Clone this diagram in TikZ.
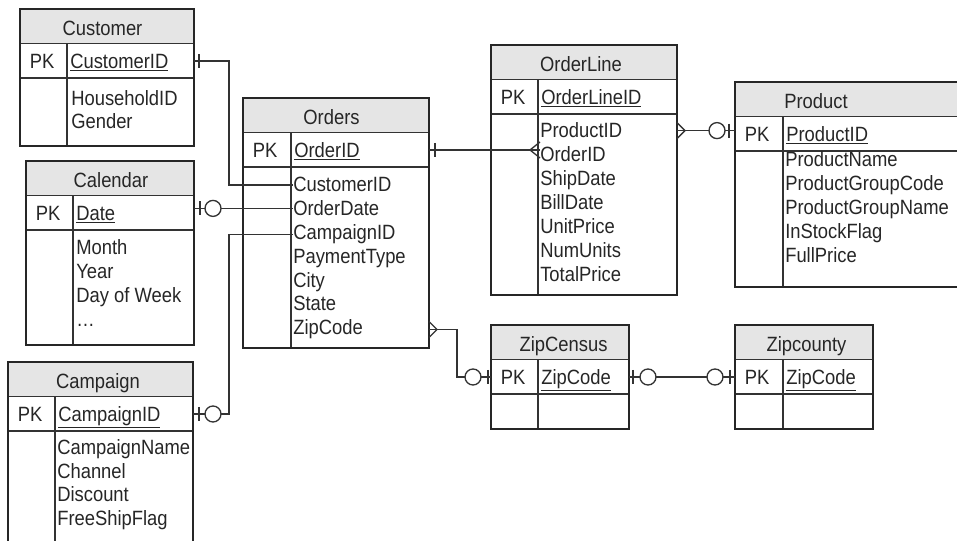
\documentclass[tikz,border=0pt]{standalone}
\usepackage{fontspec}
\setmainfont{Liberation Sans}[FakeStretch=0.89]

\newcommand{\tablefont}{\fontsize{15.5}{17.8}\selectfont}
% primary key: underline below the descenders
\newcommand{\keyline}[1]{\setbox0\hbox{#1}\leavevmode\rlap{\rule[-\dimexpr\dp0+1.3pt\relax]{\wd0}{0.8pt}}\box0}

\tikzset{
  tabborder/.style={line width=2.2pt, draw=black!85},
  tabrule/.style={line width=1.2pt, draw=black!80},
  headfill/.style={fill=black!10},
  link/.style={line width=1pt, draw=black!80},
  tabtitle/.style={font=\tablefont, text=black!85, inner sep=0pt, anchor=base},
  tabfield/.style={font=\tablefont, text=black!85, inner sep=0pt, anchor=base west},
}

% #1 id, #2 left, #3 top, #4 divider, #5 right, #6 bottom, #7 title x, #8 title, #9 key
\newcommand{\ertable}[9]{%
  \fill[headfill] (#2,#3) rectangle (#5,#3+34.5);
  \draw[tabrule] (#2,#3+34.5) -- (#5,#3+34.5) (#2,#3+69) -- (#5,#3+69) (#4,#3+34.5) -- (#4,#6);
  \draw[tabborder] (#2,#3) rectangle (#5,#6);
  \coordinate (#1-l) at (#2,#3+52);
  \coordinate (#1-r) at (#5,#3+52);
  \node[tabtitle] (#1-title) at (#7,#3+27) {#8};
  \node[tabfield] (#1-pk) at (#2+9.5,#3+60) {PK};
  \node[tabfield] (#1-key) at (#4+3,#3+60) {\keyline{#9}};
}
% #1 id, #2 x, #3 first baseline, #4 line step, #5 field list
\newcommand{\fields}[5]{%
  \foreach \f [count=\i from 0] in {#5}
    \node[tabfield] (#1-f\i) at (#2,#3+#4*\i) {\f};
}
% relationship ends
\newcommand{\onebar}[2]{\draw[link] (#1) ++(#2,-7) -- ++(0,14);}
\newcommand{\zeroring}[2]{\draw[link, fill=white] (#1) ++(#2,0) circle[radius=6pt];}
\newcommand{\crowfoot}[2]{\draw[link] (#1) ++(0,-8) -- ++(#2,8) -- ++({-(#2)},8);}

\begin{document}
\begin{tikzpicture}[x=0.75pt, y=-0.75pt]
  \useasboundingbox (0,0) rectangle (957,541);
  \clip (0,0) rectangle (957,541);

  \ertable{cust}{20}{9}{67}{194}{146}{102.5}{Customer}{CustomerID}
  \fields{cust}{71}{106}{22.5}{HouseholdID,Gender}

  \ertable{cal}{26}{161}{73}{194}{345}{111}{Calendar}{Date}
  \fields{cal}{76}{255}{23.8}{Month,Year,Day of Week,…}

  \ertable{camp}{8}{362}{55}{193}{600}{98}{Campaign}{CampaignID}
  \fields{camp}{57}{455}{23.5}{CampaignName,Channel,Discount,FreeShipFlag}

  \ertable{ord}{243}{98}{291}{429}{348}{331.5}{Orders}{OrderID}
  \fields{ord}{293}{192}{23.8}{CustomerID,OrderDate,CampaignID,PaymentType,City,State,ZipCode}

  \ertable{ol}{491}{45}{538}{677}{295}{581}{OrderLine}{OrderLineID}
  \fields{ol}{540}{138}{24}{ProductID,OrderID,ShipDate,BillDate,UnitPrice,NumUnits,TotalPrice}

  \ertable{prod}{735}{82}{783}{1000}{287}{816}{Product}{ProductID}
  \fields{prod}{785}{167}{24}{ProductName,ProductGroupCode,ProductGroupName,InStockFlag,FullPrice}

  \ertable{zc}{491}{325}{538}{629}{429}{563.5}{ZipCensus}{ZipCode}
  \ertable{zco}{735}{325}{783}{873}{429}{806.5}{Zipcounty}{ZipCode}

  % bends of the elbow connectors
  \coordinate (lbend) at (229,0);
  \coordinate (zbend) at (457,0);

  % connectors
  \draw[link] (cust-r) -- (cust-r -| lbend) |- (ord-f0.west);
  \draw[link] (cal-r |- ord-f1.west) -- (ord-f1.west);
  \draw[link] (camp-r) -- (camp-r -| lbend) |- (ord-f2.west);
  \draw[link] (ord-r) -- (ord-r -| ol-f1.west);
  \draw[link] (ol-f0.west -| ol-r) -- (ol-f0.west -| prod-l);
  \draw[link] (ord-f6.west -| ord-r) -- (ord-f6.west -| zbend) |- (zc-l);
  \draw[link] (zc-r) -- (zco-l);

  % cardinality marks
  \onebar{cust-r}{5}
  \onebar{cal-r |- ord-f1.west}{6}
  \zeroring{cal-r |- ord-f1.west}{19}
  \onebar{camp-r}{6}
  \zeroring{camp-r}{20}
  \onebar{ord-r}{6}
  \crowfoot{ord-r -| ol-f1.west}{-10}
  \crowfoot{ol-f0.west -| ol-r}{8}
  \zeroring{ol-f0.west -| prod-l}{-18}
  \onebar{ol-f0.west -| prod-l}{-6}
  \crowfoot{ord-f6.west -| ord-r}{8}
  \zeroring{zc-l}{-18}
  \onebar{zc-l}{-3}
  \onebar{zc-r}{4}
  \zeroring{zc-r}{19}
  \zeroring{zco-l}{-20}
  \onebar{zco-l}{-5}
\end{tikzpicture}
\end{document}
